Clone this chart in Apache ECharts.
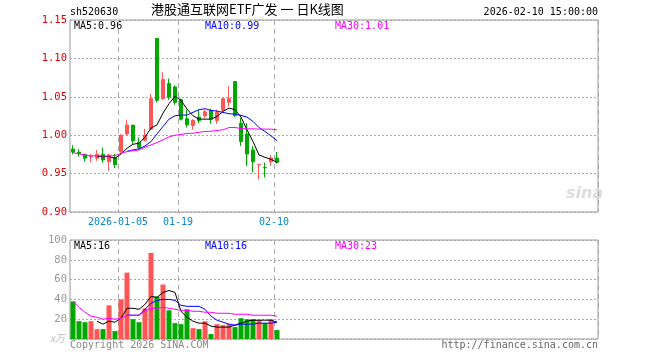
<!DOCTYPE html>
<html>
<head>
<meta charset="utf-8">
<script src="https://cdn.jsdelivr.net/npm/echarts@6/dist/echarts.min.js"></script>
<style>
html,body{margin:0;padding:0;background:#fff;}
#c{width:660px;height:360px;}
</style>
</head>
<body>
<div id="c"></div>
<script>
// ---- data ----
var dates = ['2025-12-22','2025-12-23','2025-12-24','2025-12-25','2025-12-26','2025-12-29','2025-12-30','2025-12-31',
  '2026-01-05','2026-01-06','2026-01-07','2026-01-08','2026-01-09','2026-01-12','2026-01-13','2026-01-14','2026-01-15','2026-01-16',
  '2026-01-19','2026-01-20','2026-01-21','2026-01-22','2026-01-23','2026-01-26','2026-01-27','2026-01-28','2026-01-29','2026-01-30',
  '2026-02-02','2026-02-03','2026-02-04','2026-02-05','2026-02-06','2026-02-09','2026-02-10'];
var openP  = [0.982,0.978,0.975,0.9718,0.970,0.975,0.9655,0.9708,0.9786,1.0017,1.0131,0.9908,0.9935,1.0079,1.126,1.0476,1.0672,1.0628,
  1.0462,1.0214,1.0127,1.0236,1.0253,1.0323,1.0192,1.0323,1.0428,1.0698,1.0157,1.0017,0.9808,0.9615,0.958,0.9655,0.9703];
var closeP = [0.978,0.976,0.970,0.973,0.975,0.9677,0.9743,0.9616,1.000,1.0131,0.9926,0.9839,1.000,1.0476,1.0454,1.0724,1.0497,1.0428,
  1.0209,1.0135,1.0192,1.0192,1.0305,1.0209,1.0301,1.0476,1.0476,1.0253,0.9917,0.9756,0.9655,0.962,0.9575,0.9703,0.9646];
var lowP   = [0.975,0.972,0.9655,0.9647,0.9668,0.9642,0.9538,0.9572,0.977,0.999,0.9882,0.9817,0.9921,1.007,1.0428,1.046,1.046,1.0397,
  1.0192,1.010,1.007,1.0157,1.0222,1.0148,1.0148,1.031,1.0375,1.0236,0.986,0.960,0.9516,0.9424,0.945,0.960,0.9633];
var highP  = [0.987,0.982,0.976,0.9755,0.9808,0.9839,0.9756,0.9756,1.0013,1.020,1.0135,0.9969,1.0083,1.0537,1.126,1.082,1.0737,1.065,
  1.0476,1.0332,1.0209,1.033,1.0332,1.0345,1.0332,1.0476,1.0637,1.0698,1.0223,1.0157,0.986,0.962,0.9642,0.9743,0.9782];
var ma5P  = ['-','-','-','-',0.9721,0.9721,0.9721,0.9699,0.9756,0.9830,0.9882,0.9895,0.9974,1.0092,1.0135,1.0288,1.0410,1.0506,
  1.0454,1.0340,1.0253,1.0209,1.0209,1.0209,1.0244,1.0310,1.0353,1.0332,1.0236,1.0070,0.9917,0.9743,0.9712,0.9686,0.9647];
var ma10P = ['-','-','-','-','-','-','-','-','-',0.979,0.9808,0.9821,0.9860,0.9917,1.0017,1.0113,1.0209,1.0253,
  1.0262,1.0262,1.0297,1.0332,1.0345,1.0323,1.0314,1.0297,1.0279,1.0275,1.0257,1.0236,1.0179,1.0100,1.0048,0.9991,0.9930];
var ma30P = [0.9773,0.9756,0.9743,0.9729,0.9734,0.9729,0.9729,0.9734,0.9764,0.9786,0.9799,0.9808,0.9843,0.9873,0.9904,0.9939,0.9978,1.000,
  1.0009,1.0022,1.0026,1.0039,1.0048,1.0052,1.0061,1.0070,1.0100,1.0100,1.0087,1.0083,1.0083,1.0079,1.0079,1.0079,1.0070];
var volume = [38,18,17,18,10,10,34,8,40,67,20,17,31,87,43,55,29,16,15,30,11,10,18,5,15,14,15,12,21,20,20,19,16,20,9];
var ma5V  = ['-','-','-','-',18,15,18,17,21,31,31,30,35,43,42,47,49,47,28,22,18,16,16,13,12,12,12,14,16,18,19,19,19,19,17];
var ma10V = ['-','-','-','-','-','-','-','-','-',24,24,24,30,36,39,40,40,39,34,33,33,33,30,23,19,17,15,14,15,15,15,16,16,16,17];
var ma30V = [38,32,27,23,22,20,21,20,21,24,24,24,28,31,31,32,31,30,29,29,28,28,27,27,26,26,26,25,25,25,24,24,24,24,23];
var priceTicks = {min:0.90, max:1.15, step:0.05};
var volTicks = {min:0, max:100, step:20};
var labelDates = ['2026-01-05','2026-01-19','2026-02-10'];
var labelTexts = ['2026-01-05','01-19','02-10'];
var slotCount = 88;
var titleText = '港股通互联网ETF广发 一 日K线图';
var codeText = 'sh520630';
var timeText = '2026-02-10 15:00:00';
var priceLegend = ['MA5:0.96','MA10:0.99','MA30:1.01'];
var volLegend = ['MA5:16','MA10:16','MA30:23'];

// ---- build ----
var RED = '#ff5555', GREEN = '#00a800';
var MONO = '"DejaVu Sans Mono", "Liberation Mono", monospace';
var cats = dates.slice();
for (var i = dates.length; i < slotCount; i++) cats.push('pad' + i);
var labelIdx = labelDates.map(function (d) { return dates.indexOf(d); });
var kData = dates.map(function (d, i) { return [openP[i], closeP[i], lowP[i], highP[i]]; });
var volData = volume.map(function (v, i) {
  return {value: v, itemStyle: {color: closeP[i] >= openP[i] ? RED : GREEN}};
});
function showIdx(index) { return labelIdx.indexOf(index) >= 0; }

function xAxisCfg(gridIndex, withLabel) {
  return {
    type: 'category', gridIndex: gridIndex, data: cats, boundaryGap: true,
    axisLine: {show: false}, axisTick: {show: false},
    axisLabel: withLabel ? {
      show: true, interval: function (index) { return showIdx(index); },
      formatter: function (v, index) { var k = labelIdx.indexOf(index); return k >= 0 ? labelTexts[k] : ''; },
      color: '#0a86cf', fontFamily: MONO, fontSize: 10, margin: 5, padding: [0, 6, 0, 0]
    } : {show: false},
    splitLine: {show: true, interval: function (index) { return showIdx(index); },
      lineStyle: {color: '#aaaaaa', type: [5, 4], width: 1}}
  };
}

var chart = echarts.init(document.getElementById('c'), null, {renderer: 'canvas'});
chart.setOption({
  animation: false,
  backgroundColor: '#fff',
  grid: [
    {left: 70, top: 20, width: 528, height: 192, show: true, borderColor: '#999', borderWidth: 1, backgroundColor: 'transparent'},
    {left: 70, top: 240, width: 528, height: 99, show: true, borderColor: '#999', borderWidth: 1, backgroundColor: 'transparent'}
  ],
  xAxis: [xAxisCfg(0, true), xAxisCfg(1, false)],
  yAxis: [
    {type: 'value', gridIndex: 0, min: priceTicks.min, max: priceTicks.max, interval: priceTicks.step,
      axisLine: {show: false}, axisTick: {show: false},
      axisLabel: {color: '#e00000', fontFamily: MONO, fontSize: 10.5, margin: 3, formatter: function (v) { return v.toFixed(2); }},
      splitLine: {show: true, lineStyle: {color: '#aaaaaa', type: [2, 2], width: 1}}},
    {type: 'value', gridIndex: 1, min: volTicks.min, max: volTicks.max, interval: volTicks.step,
      axisLine: {show: false}, axisTick: {show: false},
      axisLabel: {color: '#999999', fontFamily: MONO, fontSize: 10.5, margin: 3, formatter: function (v) { return v === 0 ? '' : String(v); }},
      splitLine: {show: true, lineStyle: {color: '#aaaaaa', type: [2, 2], width: 1}}}
  ],
  series: [
    {type: 'candlestick', xAxisIndex: 0, yAxisIndex: 0, data: kData, barWidth: 4,
      itemStyle: {color: RED, color0: GREEN, borderColor: RED, borderColor0: GREEN, borderWidth: 1}},
    {type: 'line', xAxisIndex: 0, yAxisIndex: 0, data: ma5P, symbol: 'none', lineStyle: {color: '#000', width: 1}},
    {type: 'line', xAxisIndex: 0, yAxisIndex: 0, data: ma10P, symbol: 'none', lineStyle: {color: '#0000ff', width: 1}},
    {type: 'line', xAxisIndex: 0, yAxisIndex: 0, data: ma30P, symbol: 'none', lineStyle: {color: '#ff00ff', width: 1}},
    {type: 'bar', xAxisIndex: 1, yAxisIndex: 1, data: volData, barWidth: 5},
    {type: 'line', xAxisIndex: 1, yAxisIndex: 1, data: ma5V, symbol: 'none', lineStyle: {color: '#000', width: 1}},
    {type: 'line', xAxisIndex: 1, yAxisIndex: 1, data: ma10V, symbol: 'none', lineStyle: {color: '#0000ff', width: 1}},
    {type: 'line', xAxisIndex: 1, yAxisIndex: 1, data: ma30V, symbol: 'none', lineStyle: {color: '#ff00ff', width: 1}}
  ],
  graphic: [
    {type: 'text', left: 70, top: 7, style: {text: codeText, font: '10px ' + MONO, fill: '#000'}},
    {type: 'text', left: 151, top: 3, style: {text: titleText, font: '13px "Noto Sans CJK SC"', fill: '#000'}},
    {type: 'text', right: 62, top: 7, style: {text: timeText, font: '10px ' + MONO, fill: '#000'}},
    {type: 'text', left: 74, top: 21, style: {text: priceLegend[0], font: '10px ' + MONO, fill: '#000'}},
    {type: 'text', left: 205, top: 21, style: {text: priceLegend[1], font: '10px ' + MONO, fill: '#0000ff'}},
    {type: 'text', left: 335, top: 21, style: {text: priceLegend[2], font: '10px ' + MONO, fill: '#ff00ff'}},
    {type: 'text', left: 74, top: 241, style: {text: volLegend[0], font: '10px ' + MONO, fill: '#000'}},
    {type: 'text', left: 205, top: 241, style: {text: volLegend[1], font: '10px ' + MONO, fill: '#0000ff'}},
    {type: 'text', left: 335, top: 241, style: {text: volLegend[2], font: '10px ' + MONO, fill: '#ff00ff'}},
    {type: 'text', left: 50, top: 333, style: {text: 'x万', font: 'italic 10px "Noto Sans CJK SC"', fill: '#bbbbbb'}},
    {type: 'text', left: 70, top: 340, style: {text: 'Copyright 2026 SINA.COM', font: '10px ' + MONO, fill: '#888888'}},
    {type: 'text', right: 62, top: 340, style: {text: 'http://finance.sina.com.cn', font: '10px ' + MONO, fill: '#666666'}},
    {type: 'text', left: 566, top: 186, style: {text: 'sina', font: 'italic bold 16px "DejaVu Sans"', fill: '#dddddd'}}
  ]
});
</script>
</body>
</html>
